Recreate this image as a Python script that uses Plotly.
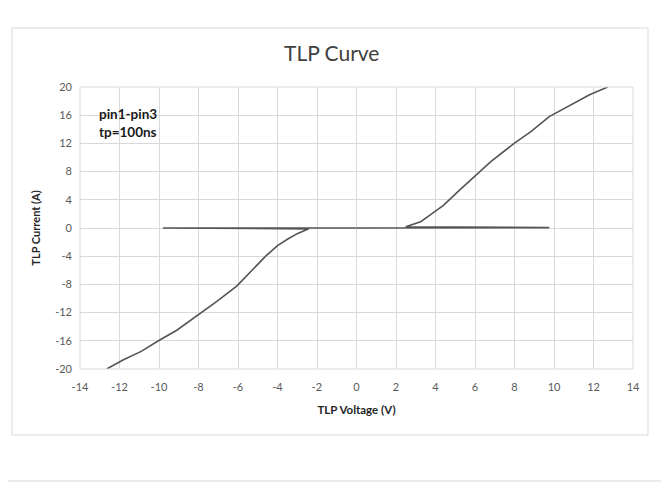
import plotly.graph_objects as go

# Negative pulse sweep (blocking, snapback, then on-state)
neg_voltage = [0, -9.8, -2.42, -3.0, -3.5, -4.0, -4.6, -5.4, -6.05, -7.07, -8.0, -9.1, -10.03, -10.9, -11.8, -12.65]
neg_current = [0, 0, -0.12, -0.8, -1.6, -2.5, -4.0, -6.4, -8.2, -10.4, -12.3, -14.5, -16.0, -17.5, -18.7, -20.0]

# Positive pulse sweep
pos_voltage = [0, 9.76, 2.49, 3.25, 3.7, 4.4, 5.15, 5.95, 6.8, 7.98, 8.83, 9.76, 10.7, 11.8, 12.72]
pos_current = [0, 0.05, 0.18, 0.9, 1.8, 3.2, 5.2, 7.28, 9.4, 12.0, 13.66, 15.8, 17.2, 18.9, 20.0]

x_ticks = [-14, -12, -10, -8, -6, -4, -2, 0, 2, 4, 6, 8, 10, 12, 14]
y_ticks = [-20, -16, -12, -8, -4, 0, 4, 8, 12, 16, 20]

FONT = "Lato"
line_col = "#555555"

fig = go.Figure()
fig.add_trace(go.Scatter(x=neg_voltage, y=neg_current, mode="lines",
                         line=dict(color=line_col, width=1.6), showlegend=False))
fig.add_trace(go.Scatter(x=pos_voltage, y=pos_current, mode="lines",
                         line=dict(color=line_col, width=1.6), showlegend=False))

OFF = 8  # page body margin
W, H = 669 - OFF, 483 - OFF
L, T = 80 - OFF, 87 - OFF
R = W - (633 - OFF)
B = H - (369 - OFF)
pw, ph = W - L - R, H - T - B

def px(x):
    return (x - OFF - L) / pw

def py(y):
    return (369 - y) / ph

fig.update_layout(
    width=W, height=H,
    margin=dict(l=L, r=R, t=T, b=B),
    paper_bgcolor="white", plot_bgcolor="white",
    font=dict(family=FONT, color="#595959", size=11),
    xaxis=dict(range=[-14, 14], tickvals=x_ticks, ticktext=[str(v) for v in x_ticks],
               showgrid=True, gridcolor="#d9d9d9", gridwidth=1, zeroline=False,
               showline=False, ticks="", ticklabelstandoff=10,
               tickfont=dict(size=11, color="#595959"),
               title=dict(text="<b>TLP Voltage (V)</b>", font=dict(size=11.5, color="#262626"), standoff=13),
               fixedrange=True),
    yaxis=dict(range=[-20, 20], tickvals=y_ticks, ticktext=[str(v) for v in y_ticks],
               showgrid=True, gridcolor="#d9d9d9", gridwidth=1, zeroline=False,
               showline=False, ticks="", ticklabelstandoff=7,
               tickfont=dict(size=11, color="#595959"),
               title=dict(text="<b>TLP Current (A)</b>", font=dict(size=11, color="#262626"), standoff=12),
               fixedrange=True),
    shapes=[
        dict(type="rect", xref="paper", yref="paper", x0=px(12), x1=px(648), y0=py(435), y1=py(28),
             line=dict(color="#d9d9d9", width=1), layer="below"),
        dict(type="rect", xref="paper", yref="paper", x0=px(-2), x1=px(666), y0=py(481), y1=py(2),
             line=dict(color="#e3e3e3", width=1.5), layer="below"),
        dict(type="rect", xref="paper", yref="paper", x0=0, x1=1, y0=0, y1=1,
             line=dict(color="#d9d9d9", width=1)),
    ],
    annotations=[
        dict(text="TLP Curve", xref="paper", yref="paper", x=px(331), y=py(53),
             showarrow=False, xanchor="center", yanchor="middle",
             font=dict(size=21, color="#404040", family=FONT)),
        dict(text="<b>pin1-pin3<br>tp=100ns</b>", xref="paper", yref="paper", x=px(97), y=py(123),
             showarrow=False, xanchor="left", yanchor="middle", align="left",
             font=dict(size=13.5, color="#1a1a1a", family=FONT)),
    ],
)

fig.write_html("out.html")
